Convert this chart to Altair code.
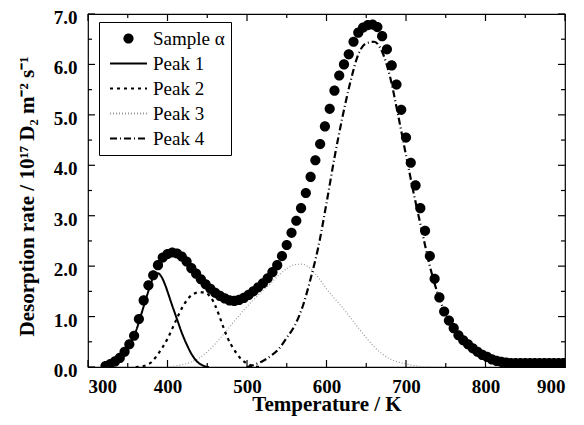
import altair as alt
import pandas as pd

# ---------------- data ----------------
sample_T = [322, 328, 334, 340, 346, 352, 358, 364, 370, 376, 382, 388, 394, 400, 406,
            412, 418, 424, 430, 436, 442, 448, 454, 460, 466, 472, 478, 484, 490, 496,
            502, 508, 514, 520, 526, 532, 538, 544, 550, 556, 562, 568, 574, 580, 586,
            592, 598, 604, 610, 616, 622, 628, 634, 640, 646, 652, 658, 664, 670, 676,
            682, 688, 694, 700, 706, 712, 718, 724, 730, 736, 742, 748, 754, 760, 766,
            772, 778, 784, 790, 796, 802, 808, 814, 820, 826, 832, 838, 844, 850, 856,
            862, 868, 874, 880, 886, 892, 898]
sample_rate = [0.02, 0.06, 0.11, 0.18, 0.30, 0.45, 0.62, 0.95, 1.32, 1.62, 1.82, 2.02, 2.17, 2.24, 2.27,
               2.25, 2.19, 2.09, 1.96, 1.85, 1.74, 1.64, 1.55, 1.47, 1.41, 1.36, 1.32, 1.31, 1.33, 1.37,
               1.43, 1.50, 1.58, 1.66, 1.76, 1.88, 2.02, 2.20, 2.42, 2.66, 2.90, 3.15, 3.45, 3.77, 4.10,
               4.42, 4.77, 5.12, 5.48, 5.78, 6.00, 6.20, 6.45, 6.63, 6.73, 6.78, 6.79, 6.74, 6.56, 6.30,
               5.98, 5.60, 5.10, 4.55, 4.05, 3.60, 3.15, 2.70, 2.20, 1.75, 1.38, 1.10, 0.92, 0.77, 0.63,
               0.53, 0.45, 0.37, 0.30, 0.24, 0.20, 0.15, 0.12, 0.10, 0.09, 0.08, 0.08, 0.08, 0.08, 0.08,
               0.08, 0.08, 0.08, 0.08, 0.08, 0.08, 0.08]

peak1_T = [320, 330, 340, 350, 360, 370, 378, 384, 388, 392, 397, 401, 405, 409, 413,
           417, 421, 425, 429, 433, 437, 441, 446, 452]
peak1_rate = [0.00, 0.05, 0.16, 0.37, 0.70, 1.20, 1.60, 1.84, 1.86, 1.80, 1.63, 1.45, 1.26, 1.08, 0.90,
              0.72, 0.56, 0.42, 0.29, 0.19, 0.11, 0.06, 0.02, 0.00]

peak2_T = [360, 370, 380, 390, 400, 410, 420, 430, 440, 445, 450, 455, 460, 465, 470,
           475, 480, 487, 493, 500, 510, 520]
peak2_rate = [0.00, 0.02, 0.10, 0.30, 0.56, 0.90, 1.22, 1.42, 1.48, 1.48, 1.45, 1.37, 1.22, 1.02, 0.80,
              0.60, 0.44, 0.27, 0.15, 0.07, 0.01, 0.00]

peak3_T = [400, 410, 420, 430, 440, 450, 460, 470, 480, 490, 500, 510, 520, 530, 540,
           550, 560, 570, 580, 590, 600, 610, 620, 630, 640, 650, 660, 670, 680, 690,
           700, 710, 720, 730]
peak3_rate = [0.00, 0.02, 0.05, 0.10, 0.18, 0.30, 0.46, 0.64, 0.83, 1.02, 1.20, 1.36, 1.52, 1.66, 1.82,
              1.95, 2.03, 2.04, 1.95, 1.77, 1.55, 1.36, 1.18, 0.98, 0.78, 0.58, 0.40, 0.26, 0.16, 0.10,
              0.06, 0.03, 0.01, 0.00]

peak4_T = [500, 510, 520, 530, 540, 550, 560, 570, 580, 590, 600, 610, 620, 630, 640,
           650, 660, 670, 680, 690, 700, 710, 720, 730, 740, 750, 760, 770, 780, 790,
           800, 810, 820, 830]
peak4_rate = [0.00, 0.05, 0.12, 0.22, 0.36, 0.58, 0.82, 1.20, 1.75, 2.40, 3.25, 4.15, 4.95, 5.65, 6.20,
              6.42, 6.45, 6.25, 5.75, 5.00, 4.20, 3.42, 2.70, 2.00, 1.45, 1.05, 0.75, 0.52, 0.38, 0.26,
              0.16, 0.09, 0.04, 0.00]

series_names = ["Sample α", "Peak 1", "Peak 2", "Peak 3", "Peak 4"]

x_major = [300, 400, 500, 600, 700, 800, 900]
x_minor = [350, 450, 550, 650, 750, 850]
y_major = [0, 1, 2, 3, 4, 5, 6, 7]
y_minor = [0.5, 1.5, 2.5, 3.5, 4.5, 5.5, 6.5]

x_title = "Temperature / K"
y_title = "Desorption rate / 10¹⁷ D₂ m⁻² s⁻¹"

# ---------------- styles ----------------
W, H = 477, 353
X0, X1, Y0, Y1 = 300, 900, 0, 7
FONT = "Liberation Serif"
GREY = "#9a9a9a"
DASH = {"Peak 1": [1, 0], "Peak 2": [3, 4], "Peak 3": [1, 2], "Peak 4": [7, 3, 1, 3]}
SYM = 342  # symbol area (sqrt = 18.5); shapes below span +-2 units -> 37 px legend lines
circle_path = "M0.55,0A0.55,0.55,0,1,1,-0.55,0A0.55,0.55,0,1,1,0.55,0Z"
line_path = "M-2,0H2"
MAJ_PX, MIN_PX = 7, 4
kx = (X1 - X0) / W   # data units per pixel
ky = (Y1 - Y0) / H

sample_df = pd.DataFrame({"T": sample_T, "rate": sample_rate, "series": "Sample α"})
p1 = pd.DataFrame({"T": peak1_T, "rate": peak1_rate})
p2 = pd.DataFrame({"T": peak2_T, "rate": peak2_rate})
p3 = pd.DataFrame({"T": peak3_T, "rate": peak3_rate})
p4 = pd.DataFrame({"T": peak4_T, "rate": peak4_rate})
xmaj_df = pd.DataFrame({"T": x_major})
xmin_df = pd.DataFrame({"T": x_minor})
ymaj_df = pd.DataFrame({"rate": y_major})
ymin_df = pd.DataFrame({"rate": y_minor})

xs = alt.Scale(domain=[X0, X1], nice=False)
ys = alt.Scale(domain=[Y0, Y1], nice=False)

main_x = alt.Axis(orient="bottom", values=x_major, format="d", ticks=False, domain=False,
                  grid=False, labelFont=FONT, labelFontSize=19, labelFontWeight="bold",
                  labelColor="black", labelPadding=10, title=x_title, titleFont=FONT,
                  titleFontSize=21, titleFontWeight="bold", titleColor="black", titlePadding=-3)
main_y = alt.Axis(orient="left", values=y_major, format=".1f", ticks=False, domain=False,
                  grid=False, labelFont=FONT, labelFontSize=19, labelFontWeight="bold",
                  labelColor="black", labelPadding=11, labelOffset=3.5, title=y_title, titleFont=FONT,
                  titleFontSize=21, titleFontWeight="bold", titleColor="black", titlePadding=16,
                  titleY=182)

X = alt.X("T:Q", scale=xs, axis=main_x, title=x_title)
Y = alt.Y("rate:Q", scale=ys, axis=main_y, title=y_title)

legend = alt.Legend(
    title=None, orient="none", legendX=11, legendY=8,
    labelFont=FONT, labelFontSize=19, labelColor="black", labelOffset=14,
    labelExpr="datum.label + '\u2003'",
    symbolSize=SYM, symbolStrokeWidth=2, symbolOpacity=1, symbolOffset=13,
    strokeColor="black", fillColor="white", padding=6, rowPadding=4,
)

points = alt.Chart(sample_df).mark_point(filled=True, size=SYM, opacity=1, clip=True).encode(
    x=X, y=Y,
    fill=alt.Fill("series:N", legend=legend,
                  scale=alt.Scale(domain=series_names,
                                  range=["black", "transparent", "transparent", "transparent", "transparent"])),
    stroke=alt.Stroke("series:N", legend=legend,
                      scale=alt.Scale(domain=series_names,
                                      range=["transparent", "black", "black", GREY, "black"])),
    shape=alt.Shape("series:N", legend=legend,
                    scale=alt.Scale(domain=series_names,
                                    range=[circle_path, line_path, line_path, line_path, line_path])),
    strokeDash=alt.StrokeDash("series:N", legend=legend,
                              scale=alt.Scale(domain=series_names,
                                              range=[[1, 0], DASH["Peak 1"], DASH["Peak 2"],
                                                     DASH["Peak 3"], DASH["Peak 4"]])),
)


def peak_layer(df, color, dash, width):
    return alt.Chart(df).mark_line(color=color, strokeDash=dash, strokeWidth=width,
                                   interpolate="monotone", clip=True).encode(x=X, y=Y)


def xticks(df, base, px):
    # vertical inward tick from the bottom (base=Y0) or top (base=Y1) edge
    end = base + px * ky if base == Y0 else base - px * ky
    return alt.Chart(df).transform_calculate(
        ya=str(base), yb=str(round(end, 4))
    ).mark_rule(color="black", strokeWidth=1.2, opacity=1).encode(
        x=X,
        y=alt.Y("ya:Q", scale=ys, axis=main_y, title=y_title),
        y2=alt.Y2("yb:Q"),
    )


def yticks(df, base, px):
    end = base + px * kx if base == X0 else base - px * kx
    return alt.Chart(df).transform_calculate(
        xa=str(base), xb=str(round(end, 4))
    ).mark_rule(color="black", strokeWidth=1.2, opacity=1).encode(
        y=Y,
        x=alt.X("xa:Q", scale=xs, axis=main_x, title=x_title),
        x2=alt.X2("xb:Q"),
    )


ticks = [
    xticks(xmaj_df, Y0, MAJ_PX), xticks(xmin_df, Y0, MIN_PX),
    xticks(xmaj_df, Y1, MAJ_PX), xticks(xmin_df, Y1, MIN_PX),
    yticks(ymaj_df, X0, MAJ_PX), yticks(ymin_df, X0, MIN_PX),
    yticks(ymaj_df, X1, MAJ_PX), yticks(ymin_df, X1, MIN_PX),
]

l1 = peak_layer(p1, "black", DASH["Peak 1"], 2)
l2 = peak_layer(p2, "black", DASH["Peak 2"], 2.2)
l3 = peak_layer(p3, GREY, DASH["Peak 3"], 1.2)
l4 = peak_layer(p4, "black", DASH["Peak 4"], 2.2)

chart = alt.layer(l3, l1, l2, l4, points, *ticks).properties(
    width=W, height=H,
    autosize=alt.AutoSizeParams(type="none"),
    padding={"left": 80, "top": 6, "right": 11, "bottom": 50},
    background="white",
).configure_view(stroke="black", strokeWidth=1.2)

chart.save("out.html", embed_options={"renderer": "svg", "actions": False})
